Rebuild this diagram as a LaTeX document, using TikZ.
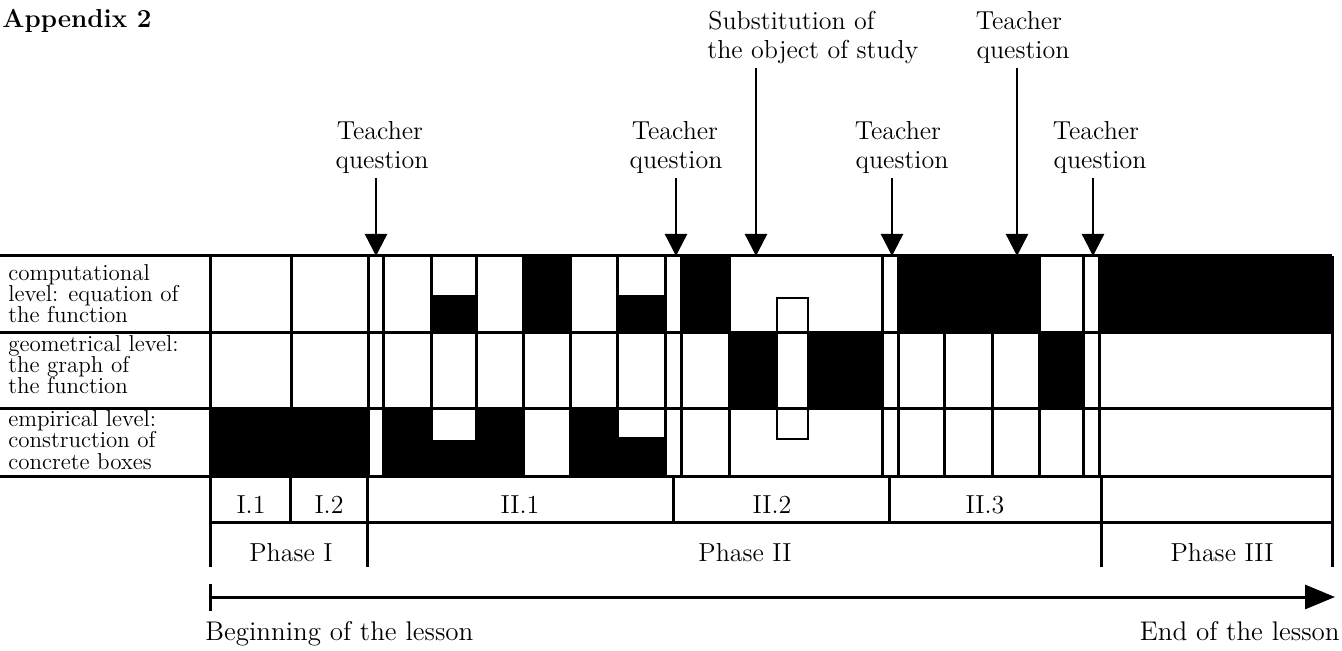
\documentclass[tikz,border=0pt]{standalone}
\usetikzlibrary{arrows.meta}
\begin{document}
\begin{tikzpicture}[x=0.5pt,y=-0.5pt,
  grid/.style={line width=1.5pt},
  lbl/.style={font=\fontsize{13}{15}\selectfont, inner sep=0pt, anchor=base},
  rowlbl/.style={font=\fontsize{11.5}{10}\selectfont, inner sep=0pt, anchor=base west},
  qarrow/.style={line width=1.2pt, -{Triangle[length=11pt,width=11pt]}},
]
\useasboundingbox (0,0) rectangle (1342,651);

% ---- black cells ----
\fill[black] (431,295) rectangle (476,333);
\fill[black] (523,256) rectangle (570,333);
\fill[black] (617,295) rectangle (665,333);
\fill[black] (681,256) rectangle (729,333);
\fill[black] (898,256) rectangle (1039,333);
\fill[black] (1099,256) rectangle (1332,333);
\fill[black] (729,333) rectangle (882,409);
\fill[black] (1039,333) rectangle (1083,409);
\fill[black] (210,409) rectangle (368,476);
\fill[black] (383,409) rectangle (431,476);
\fill[black] (431,440) rectangle (476,476);
\fill[black] (476,409) rectangle (523,476);
\fill[black] (570,409) rectangle (617,476);
\fill[black] (617,437) rectangle (665,476);

% ---- substitution bar ----
\draw[line width=1.3pt, fill=white] (777,298) rectangle (808,439);

% ---- grid ----
\foreach \y in {256,333,409,476} \draw[grid] (0,\y) -- (1332,\y);
\foreach \x in {210,291,368,383,431,476,523,570,617,665,681,729,882,898,944,992,1039,1083,1099,1332}
  \draw[grid] (\x,256) -- (\x,476);

% ---- sub-phase row ----
\draw[grid] (210,522) -- (1332,522);
\foreach \x in {210,290,367,673,889,1101,1332} \draw[grid] (\x,476) -- (\x,522);
\foreach \x in {210,367,1101,1332} \draw[grid] (\x,522) -- (\x,567);

\node[lbl] (s11) at (251,513) {I.1};
\node[lbl] (s12) at (329,513) {I.2};
\node[lbl] (s21) at (520,513) {II.1};
\node[lbl] (s22) at (772,513) {II.2};
\node[lbl] (s23) at (985,513) {II.3};
\node[lbl] (p1) at (291,561) {Phase I};
\node[lbl] (p2) at (745,561) {Phase II};
\node[lbl] (p3) at (1222,561) {Phase III};

% ---- row labels ----
\node[rowlbl] (r1a) at (8,281) {computational};
\node[rowlbl] (r1b) at (8,302) {level: equation of};
\node[rowlbl] (r1c) at (8,323) {the function};
\node[rowlbl] (r2a) at (8,352) {geometrical level:};
\node[rowlbl] (r2b) at (8,373) {the graph of};
\node[rowlbl] (r2c) at (8,394) {the function};
\node[rowlbl] (r3a) at (8,427) {empirical level:};
\node[rowlbl] (r3b) at (8,448) {construction of};
\node[rowlbl] (r3c) at (8,469) {concrete boxes};

% ---- time axis ----
\coordinate (axL) at (210,597);
\coordinate (axR) at (1335,597);
\coordinate (tkT) at (210,584);
\coordinate (tkB) at (210,611);
\draw[line width=1.5pt, -{Triangle[length=15pt,width=12pt]}] (axL) -- (axR);
\draw[line width=1.5pt] (tkT) -- (tkB);
\node[inner sep=0pt, anchor=base west, font=\fontsize{13.5}{16}\selectfont] (beg) at (205,640) {Beginning of the lesson};
\node[inner sep=0pt, anchor=base east, font=\fontsize{13.5}{16}\selectfont] (end) at (1340,640) {End of the lesson};

% ---- title ----
\node[inner sep=0pt, anchor=base west, font=\bfseries\fontsize{13}{15}\selectfont] (app) at (2,28) {Appendix 2};

% ---- teacher questions ----
\node[lbl] (q1a) at (380,140) {Teacher};
\node[lbl] (q1b) at (382,169) {question};
\coordinate (q1s) at (376,178); \coordinate (q1e) at (376,256);
\draw[qarrow] (q1s) -- (q1e);

\node[lbl] (q2a) at (675,140) {Teacher};
\node[lbl] (q2b) at (676,169) {question};
\coordinate (q2s) at (676,178); \coordinate (q2e) at (676,256);
\draw[qarrow] (q2s) -- (q2e);

\node[lbl, anchor=base west] (suba) at (708,30) {Substitution of};
\node[lbl, anchor=base west] (subb) at (707,59) {the object of study};
\coordinate (sus) at (756,68); \coordinate (sue) at (756,256);
\draw[qarrow] (sus) -- (sue);

\node[lbl] (q4a) at (898,140) {Teacher};
\node[lbl] (q4b) at (902,169) {question};
\coordinate (q4s) at (892,178); \coordinate (q4e) at (892,256);
\draw[qarrow] (q4s) -- (q4e);

\node[lbl] (q5a) at (1019,30) {Teacher};
\node[lbl] (q5b) at (1023,59) {question};
\coordinate (q5s) at (1017,68); \coordinate (q5e) at (1017,256);
\draw[qarrow] (q5s) -- (q5e);

\node[lbl] (q6a) at (1096,140) {Teacher};
\node[lbl] (q6b) at (1100,169) {question};
\coordinate (q6s) at (1093,178); \coordinate (q6e) at (1093,256);
\draw[qarrow] (q6s) -- (q6e);
\end{tikzpicture}
\end{document}
